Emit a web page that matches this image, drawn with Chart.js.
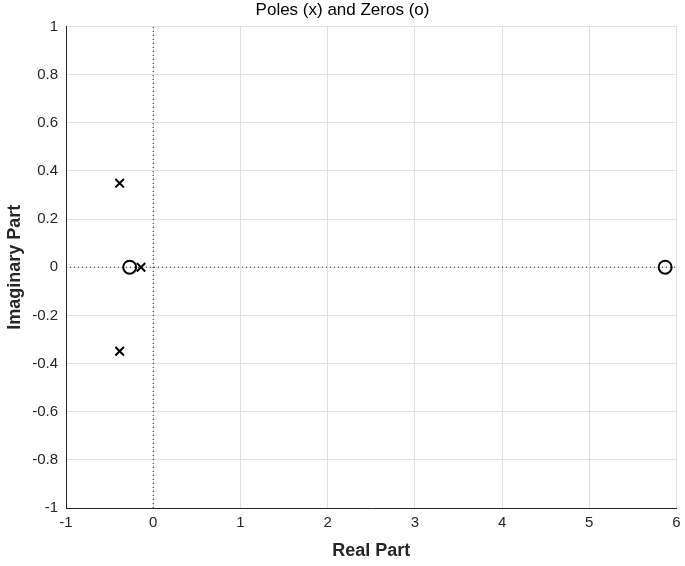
<!DOCTYPE html>
<html><head><meta charset="utf-8">
<script src="https://cdn.jsdelivr.net/npm/chart.js@4"></script>
<style>html,body{margin:0;padding:0;background:#fff}#w{width:685px;height:566px}</style>
</head><body><div id="w"><canvas id="c"></canvas></div>
<script>
const polesRe=[-0.385,-0.385,-0.14];
const polesIm=[0.349,-0.349,0];
const zerosRe=[-0.27,5.87];
const zerosIm=[0,0];
const xTicks=[-1,0,1,2,3,4,5,6];
const yTicks=[-1,-0.8,-0.6,-0.4,-0.2,0,0.2,0.4,0.6,0.8,1];
const F="'Liberation Sans', Arial, sans-serif";
new Chart(document.getElementById('c'),{
 type:'scatter',
 data:{datasets:[
  {data:[{x:-1,y:0},{x:6,y:0}],showLine:true,borderColor:'#222',borderWidth:1,borderDash:[1,3],pointRadius:0},
  {data:[{x:0,y:-1},{x:0,y:1}],showLine:true,borderColor:'#222',borderWidth:1,borderDash:[1,3],pointRadius:0},
  {data:polesRe.map((v,i)=>({x:v,y:polesIm[i]})),pointStyle:'crossRot',pointRadius:6,borderColor:'#000',borderWidth:2,backgroundColor:'#000'},
  {data:zerosRe.map((v,i)=>({x:v,y:zerosIm[i]})),pointStyle:'circle',pointRadius:6.5,borderColor:'#000',borderWidth:2,backgroundColor:'rgba(0,0,0,0)'}
 ]},
 options:{responsive:true,maintainAspectRatio:false,animation:false,
  layout:{padding:{left:0,right:0,top:0,bottom:0}},
  plugins:{legend:{display:false},tooltip:{enabled:false},
   title:{display:true,text:'Poles (x) and Zeros (o)',color:'#000',font:{family:F,size:17,weight:'normal'},padding:{top:0,bottom:6}}},
  scales:{
   x:{type:'linear',min:-1,max:6,afterBuildTicks:s=>{s.ticks=xTicks.map(v=>({value:v}))},
    afterFit:s=>{s.height=58;s.paddingRight=3},
    grid:{color:'#e0e0e0',drawTicks:false},border:{color:'#262626'},
    ticks:{color:'#262626',font:{family:F,size:15},padding:6,callback:v=>String(v)},
    title:{display:true,text:'Real Part',color:'#262626',font:{family:F,size:18,weight:'bold'},padding:{top:2}}},
   y:{type:'linear',min:-1,max:1,afterBuildTicks:s=>{s.ticks=yTicks.map(v=>({value:v}))},
    afterFit:s=>{s.width=66},
    grid:{color:'#e0e0e0',drawTicks:false},border:{color:'#262626'},
    ticks:{color:'#262626',font:{family:F,size:15},padding:8,callback:v=>String(Math.round(v*10)/10)},
    title:{display:true,text:'Imaginary Part',color:'#262626',font:{family:F,size:18,weight:'bold'},padding:{bottom:2}}}
  }}
});
</script></body></html>
